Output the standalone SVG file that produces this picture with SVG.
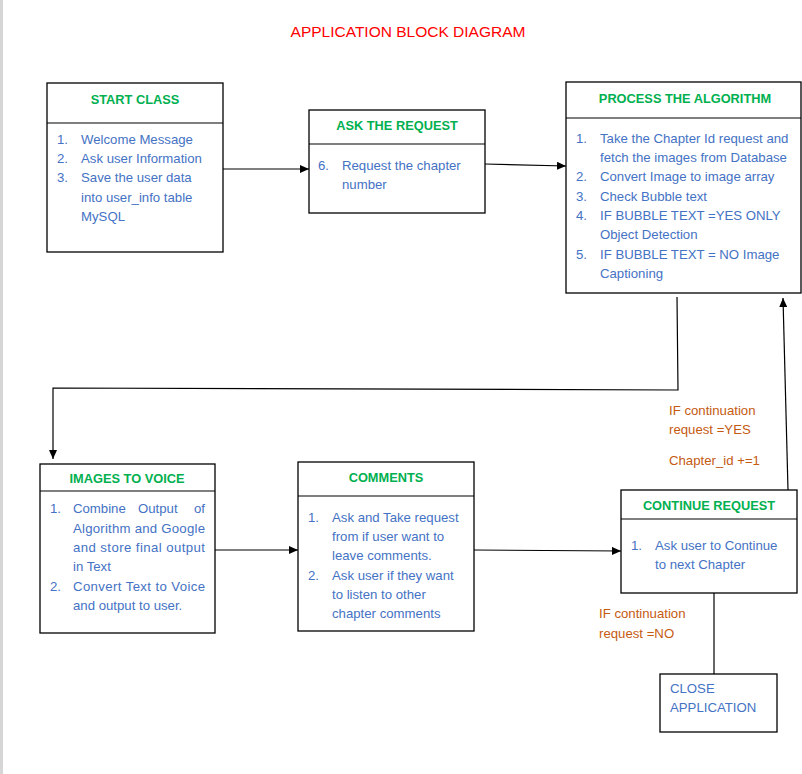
<svg xmlns="http://www.w3.org/2000/svg" width="802" height="774" viewBox="0 0 802 774">
<defs>
<marker id="arr" markerUnits="userSpaceOnUse" markerWidth="10" markerHeight="8" refX="9" refY="4" orient="auto">
<path d="M0,0 L9,4 L0,8 Z" fill="#000"/>
</marker>
<style>
.box{fill:#fff;stroke:#000;stroke-width:1.3}
.div{stroke:#000;stroke-width:1.2}
.hd{font-family:"Liberation Sans",Arial,sans-serif;font-size:12.8px;font-weight:bold;fill:#00b050;text-anchor:middle}
.tx{font-family:"Liberation Sans",Arial,sans-serif;font-size:13.2px;fill:#4472c4}
.or{font-family:"Liberation Sans",Arial,sans-serif;font-size:13.2px;fill:#c55a11}
.ln{fill:none;stroke:#000;stroke-width:1.2}
</style>
</defs>
<rect x="0" y="0" width="802" height="774" fill="#fff"/>
<rect x="0" y="0" width="3" height="774" fill="#d6d6d6"/>
<text x="408" y="37" font-family="'Liberation Sans',Arial,sans-serif" font-size="15.5" fill="#ff0000" text-anchor="middle">APPLICATION BLOCK DIAGRAM</text>

<g id="connectors">
<line class="ln" x1="223" y1="169" x2="309" y2="169" marker-end="url(#arr)"/>
<line class="ln" x1="485" y1="164" x2="566" y2="166" marker-end="url(#arr)"/>
<polyline class="ln" points="677,297 678,390 53,388 53,459" marker-end="url(#arr)"/>
<line class="ln" x1="788" y1="490" x2="783" y2="298" marker-end="url(#arr)"/>
<line class="ln" x1="215" y1="550" x2="298" y2="550" marker-end="url(#arr)"/>
<line class="ln" x1="474" y1="550" x2="621" y2="551" marker-end="url(#arr)"/>
<line class="ln" x1="714" y1="593" x2="714" y2="674"/>
</g>

<g id="start-class">
<rect class="box" x="47" y="83" width="176" height="169"/>
<line class="div" x1="47" y1="123" x2="223" y2="123"/>
<text class="hd" x="135" y="104">START CLASS</text>
<text class="tx" x="57" y="144">1.</text><text class="tx" x="81" y="144">Welcome Message</text>
<text class="tx" x="57" y="163">2.</text><text class="tx" x="81" y="163">Ask user Information</text>
<text class="tx" x="57" y="182">3.</text><text class="tx" x="81" y="182">Save the user data</text>
<text class="tx" x="81" y="202">into user_info table</text>
<text class="tx" x="81" y="221">MySQL</text>
</g>

<g id="ask-request">
<rect class="box" x="309" y="110" width="176" height="103"/>
<line class="div" x1="309" y1="144" x2="485" y2="144"/>
<text class="hd" x="397" y="130">ASK THE REQUEST</text>
<text class="tx" x="318" y="170">6.</text><text class="tx" x="342" y="170">Request the chapter</text>
<text class="tx" x="342" y="189">number</text>
</g>

<g id="process-algorithm">
<rect class="box" x="566" y="82" width="235" height="211"/>
<line class="div" x1="566" y1="118" x2="801" y2="118"/>
<text class="hd" x="685" y="103">PROCESS THE ALGORITHM</text>
<text class="tx" x="576" y="143">1.</text><text class="tx" x="600" y="143">Take the Chapter Id request and</text>
<text class="tx" x="600" y="162">fetch the images from Database</text>
<text class="tx" x="576" y="181">2.</text><text class="tx" x="600" y="181">Convert Image to image array</text>
<text class="tx" x="576" y="201">3.</text><text class="tx" x="600" y="201">Check Bubble text</text>
<text class="tx" x="576" y="220">4.</text><text class="tx" x="600" y="220">IF BUBBLE TEXT =YES ONLY</text>
<text class="tx" x="600" y="239">Object Detection</text>
<text class="tx" x="576" y="259">5.</text><text class="tx" x="600" y="259">IF BUBBLE TEXT = NO Image</text>
<text class="tx" x="600" y="278">Captioning</text>
</g>

<g id="images-to-voice">
<rect class="box" x="40" y="464" width="175" height="169"/>
<line class="div" x1="40" y1="491" x2="215" y2="491"/>
<text class="hd" x="127" y="483">IMAGES TO VOICE</text>
<text class="tx" x="50" y="513">1.</text>
<text class="tx" x="73" y="513">Combine</text><text class="tx" x="138" y="513">Output</text><text class="tx" x="205" y="513" text-anchor="end">of</text>
<text class="tx" x="73" y="533" textLength="132" lengthAdjust="spacing">Algorithm and Google</text>
<text class="tx" x="73" y="552" textLength="132" lengthAdjust="spacing">and store final output</text>
<text class="tx" x="73" y="571">in Text</text>
<text class="tx" x="50" y="591">2.</text><text class="tx" x="73" y="591" textLength="132" lengthAdjust="spacing">Convert Text to Voice</text>
<text class="tx" x="73" y="610">and output to user.</text>
</g>

<g id="comments">
<rect class="box" x="298" y="462" width="176" height="169"/>
<line class="div" x1="298" y1="496" x2="474" y2="496"/>
<text class="hd" x="386" y="482">COMMENTS</text>
<text class="tx" x="308" y="522">1.</text><text class="tx" x="332" y="522">Ask and Take request</text>
<text class="tx" x="332" y="541">from if user want to</text>
<text class="tx" x="332" y="560">leave comments.</text>
<text class="tx" x="308" y="580">2.</text><text class="tx" x="332" y="580">Ask user if they want</text>
<text class="tx" x="332" y="599">to listen to other</text>
<text class="tx" x="332" y="618">chapter comments</text>
</g>

<g id="continue-request">
<rect class="box" x="621" y="490" width="176" height="103"/>
<line class="div" x1="621" y1="519" x2="797" y2="519"/>
<text class="hd" x="709" y="510">CONTINUE REQUEST</text>
<text class="tx" x="631" y="550">1.</text><text class="tx" x="655" y="550">Ask user to Continue</text>
<text class="tx" x="655" y="569">to next Chapter</text>
</g>

<g id="close-application">
<rect class="box" x="660" y="674" width="117" height="58"/>
<text class="tx" x="670" y="693">CLOSE</text>
<text class="tx" x="670" y="712">APPLICATION</text>
</g>

<g id="labels">
<text class="or" x="669" y="415">IF continuation</text>
<text class="or" x="669" y="434">request =YES</text>
<text class="or" x="669" y="465">Chapter_id +=1</text>
<text class="or" x="599" y="618">IF continuation</text>
<text class="or" x="599" y="638">request =NO</text>
</g>
</svg>
